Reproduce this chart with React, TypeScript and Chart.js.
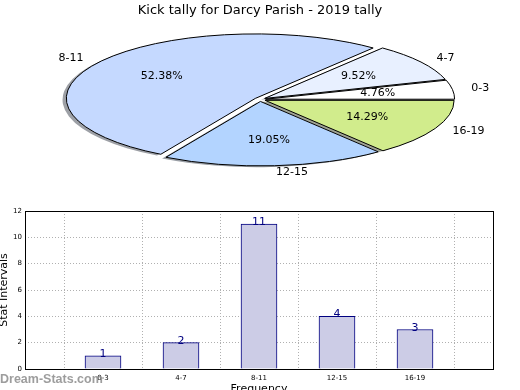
import React, { useEffect, useRef } from 'react';
import { Chart, registerables } from 'chart.js';
Chart.register(...registerables);

const TITLE = 'Kick tally for Darcy Parish - 2019 tally';
const CATEGORIES = ['0-3', '4-7', '8-11', '12-15', '16-19'];
const VALUES = [1, 2, 11, 4, 3];
const PIE_COLORS = ['#ffffff', '#e8f0ff', '#c5d9ff', '#b3d4ff', '#d1ec8c'];
const Y_MAX = 12;
const Y_STEP = 2;
const Y_TITLE = 'Stat Intervals';
const X_TITLE = 'Frequency';
const WATERMARK = 'Dream-Stats.com';

// pie geometry (ellipse on the page)
const CX = 260;
const CY = 99.5;
const RX = 189;
const RY = 64.5;
const EXPLODE = 0.03;
const LABEL_DIST = 1.1;
const PCT_DIST = 0.6;
const FONT = "'DejaVu Sans', sans-serif";

function hexToRgb(h: string) {
  const n = parseInt(h.slice(1), 16);
  return [(n >> 16) & 255, (n >> 8) & 255, n & 255];
}

export default function App() {
  const pieRef = useRef<HTMLCanvasElement>(null);
  const barRef = useRef<HTMLCanvasElement>(null);

  useEffect(() => {
    document.body.style.margin = '0';
    Chart.defaults.font.family = FONT;

    const pieLabels = [...CATEGORIES].reverse();
    const pieValues = [...VALUES].reverse();
    const pieColors = [...PIE_COLORS].reverse();
    const total = VALUES.reduce((a, b) => a + b, 0);

    const pieShape = {
      id: 'pieShape',
      beforeDatasetDraw(chart: any) {
        const ctx = chart.ctx as CanvasRenderingContext2D;
        const arcs = chart.getDatasetMeta(0).data as any[];
        if (!arcs.length) return false;
        const R = arcs[0].outerRadius;
        const x0 = arcs[0].x;
        const y0 = arcs[0].y;
        const sx = RX / R;
        const sy = RY / R;
        const applyT = (a: any, dx = 0, dy = 0) => {
          const mid = (a.startAngle + a.endAngle) / 2;
          ctx.translate(CX + dx, CY + dy);
          ctx.scale(sx, sy);
          ctx.translate(Math.cos(mid) * EXPLODE * R, Math.sin(mid) * EXPLODE * R);
          ctx.translate(-x0, -y0);
        };
        const pathFor = (a: any) => {
          ctx.beginPath();
          ctx.moveTo(a.x, a.y);
          ctx.arc(a.x, a.y, a.outerRadius, a.startAngle, a.endAngle);
          ctx.closePath();
        };
        // shadows
        arcs.forEach((a, i) => {
          ctx.save();
          applyT(a, -0.02 * RX, 0.02 * RY);
          pathFor(a);
          ctx.restore();
          const [r, g, b] = hexToRgb(pieColors[i]);
          ctx.fillStyle = `rgba(${Math.round(r * 0.3)},${Math.round(g * 0.3)},${Math.round(b * 0.3)},0.5)`;
          ctx.fill();
        });
        // fills by the library's arc elements
        arcs.forEach((a) => {
          ctx.save();
          applyT(a);
          a.draw(ctx);
          ctx.restore();
        });
        // outlines
        arcs.forEach((a) => {
          ctx.save();
          applyT(a);
          pathFor(a);
          ctx.restore();
          ctx.lineWidth = 1;
          ctx.strokeStyle = '#000';
          ctx.lineJoin = 'miter';
          ctx.stroke();
        });
        return false;
      },
      afterDatasetsDraw(chart: any) {
        const ctx = chart.ctx as CanvasRenderingContext2D;
        const arcs = chart.getDatasetMeta(0).data as any[];
        ctx.save();
        ctx.font = `11px ${FONT}`;
        ctx.fillStyle = '#000';
        ctx.textBaseline = 'middle';
        arcs.forEach((a, i) => {
          const mid = (a.startAngle + a.endAngle) / 2;
          const c = Math.cos(mid);
          const s = Math.sin(mid);
          const lx = CX + (EXPLODE + LABEL_DIST) * c * RX;
          const ly = CY + (EXPLODE + LABEL_DIST) * s * RY;
          ctx.textAlign = c < 0 ? 'right' : 'left';
          ctx.fillText(pieLabels[i], lx, ly);
          const px = CX + (EXPLODE + PCT_DIST) * c * RX;
          const py = CY + (EXPLODE + PCT_DIST) * s * RY;
          ctx.textAlign = 'center';
          ctx.fillText(((pieValues[i] / total) * 100).toFixed(2) + '%', px, py);
        });
        ctx.restore();
      },
    };

    const pie = new Chart(pieRef.current!, {
      type: 'pie',
      data: {
        labels: pieLabels,
        datasets: [
          {
            data: pieValues,
            backgroundColor: pieColors,
            borderWidth: 0,
            offset: 0,
          },
        ],
      },
      options: {
        animation: false,
        responsive: false,
        rotation: 90,
        layout: { padding: { left: 70, right: 70, top: 0, bottom: 0 } },
        plugins: {
          legend: { display: false },
          tooltip: { enabled: false },
          title: {
            display: true,
            text: TITLE,
            color: '#000',
            font: { size: 13, weight: 'normal', family: FONT },
            padding: { top: 3, bottom: 0 },
          },
        },
      },
      plugins: [pieShape],
    } as any);

    const barExtras = {
      id: 'barExtras',
      afterDatasetsDraw(chart: any) {
        const ctx = chart.ctx as CanvasRenderingContext2D;
        const { left, top, right, bottom } = chart.chartArea;
        ctx.save();
        // frame
        ctx.strokeStyle = '#000';
        ctx.lineWidth = 1;
        ctx.strokeRect(Math.round(left) + 0.5, Math.round(top) + 0.5, Math.round(right - left), Math.round(bottom - top));
        // value labels
        const meta = chart.getDatasetMeta(0);
        const data = chart.data.datasets[0].data;
        ctx.font = `11px ${FONT}`;
        ctx.fillStyle = '#000080';
        ctx.textAlign = 'center';
        ctx.textBaseline = 'alphabetic';
        meta.data.forEach((el: any, i: number) => {
          const v = data[i];
          if (v == null) return;
          ctx.fillText(String(v), el.x, el.y + 1);
        });
        ctx.restore();
      },
      afterDraw(chart: any) {
        const ctx = chart.ctx as CanvasRenderingContext2D;
        ctx.save();
        ctx.font = "bold 12.5px 'Liberation Sans', Arial, sans-serif";
        ctx.fillStyle = 'rgba(140,140,140,0.85)';
        ctx.textAlign = 'left';
        ctx.textBaseline = 'middle';
        ctx.fillText(WATERMARK, 0, 380);
        ctx.restore();
      },
    };

    const bar = new Chart(barRef.current!, {
      type: 'bar',
      data: {
        labels: ['', ...CATEGORIES, ''],
        datasets: [
          {
            data: [null, ...VALUES, null],
            backgroundColor: '#ccccE6',
            borderColor: '#000080',
            borderWidth: 1,
            barThickness: 36,
          },
        ],
      },
      options: {
        animation: false,
        responsive: false,
        layout: { padding: { left: 0, top: 211, right: 27, bottom: 0 } },
        plugins: { legend: { display: false }, tooltip: { enabled: false } },
        scales: {
          x: {
            type: 'category',
            offset: false,
            grid: { color: '#b0b0b0', lineWidth: 1, drawTicks: false },
            border: { display: false, dash: [1, 2] },
            ticks: { font: { size: 7 }, color: '#000', padding: 5, autoSkip: false, maxRotation: 0 },
            title: {
              display: true,
              text: X_TITLE,
              color: '#000',
              font: { size: 11, lineHeight: 1 },
              padding: { top: 0, bottom: -5 },
            },
            afterFit(s: any) {
              s.height = 21;
            },
          },
          y: {
            min: 0,
            max: Y_MAX,
            grid: { color: '#b0b0b0', lineWidth: 1, drawTicks: false },
            border: { display: false, dash: [1, 2] },
            ticks: { stepSize: Y_STEP, font: { size: 7 }, color: '#000', padding: 3 },
            title: {
              display: true,
              text: Y_TITLE,
              color: '#000',
              font: { size: 11, lineHeight: 1 },
              padding: { top: -1, bottom: 0 },
            },
            afterFit(s: any) {
              s.width = 25;
            },
          },
        },
      },
      plugins: [barExtras],
    } as any);

    return () => {
      pie.destroy();
      bar.destroy();
    };
  }, []);

  return (
    <div style={{ position: 'relative', width: 520, height: 390, background: '#fff' }}>
      <canvas ref={pieRef} width={520} height={390} style={{ position: 'absolute', left: 0, top: 0, width: 520, height: 390 }} />
      <canvas ref={barRef} width={520} height={390} style={{ position: 'absolute', left: 0, top: 0, width: 520, height: 390 }} />
    </div>
  );
}
